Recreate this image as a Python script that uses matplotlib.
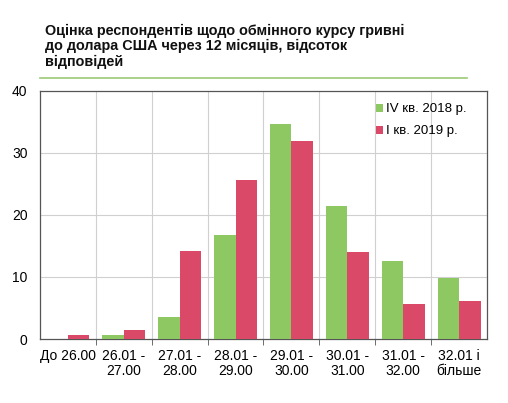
import matplotlib
matplotlib.use('Agg')
import matplotlib.pyplot as plt
import numpy as np

plt.rcParams['font.family'] = ['Liberation Sans', 'DejaVu Sans']

categories = ['До 26.00', '26.01 -\n27.00', '27.01 -\n28.00', '28.01 -\n29.00',
              '29.01 -\n30.00', '30.01 -\n31.00', '31.01 -\n32.00', '32.01 і\nбільше']
q4_2018 = [0.0, 0.6, 3.6, 16.7, 34.6, 21.4, 12.5, 9.8]
q1_2019 = [0.6, 1.5, 14.2, 25.6, 31.9, 14.0, 5.6, 6.1]
series_names = ['IV кв. 2018 р.', 'I кв. 2019 р.']
title = 'Оцінка респондентів щодо обмінного курсу гривні\nдо долара США через 12 місяців, відсоток\nвідповідей'

green = '#8DC863'
red = '#DA4A68'

fig = plt.figure(figsize=(5.08, 4.03), dpi=100)
ax = fig.add_axes([0.0787, 0.1588, 0.8800, 0.6166])

x = np.arange(len(categories))
w = 0.385
ax.bar(x - w / 2, q4_2018, w, color=green, label=series_names[0], zorder=3)
ax.bar(x + w / 2, q1_2019, w, color=red, label=series_names[1], zorder=3)

ax.set_xlim(-0.5, len(categories) - 0.5)
ax.set_ylim(0, 40)
ax.set_yticks([0, 10, 20, 30, 40])
ax.tick_params(axis='y', length=0, pad=9, labelsize=10)
ax.set_xticks(x)
ax.set_xticklabels(categories, fontsize=10, linespacing=1.15)
ax.tick_params(axis='x', length=0, pad=7)
bounds = np.arange(0.5, len(categories) - 0.5)
ax.set_xticks(bounds, minor=True)
ax.tick_params(axis='x', which='minor', length=4, color='#555555', direction='out')
for b in bounds:
    ax.axvline(b, color='#d0d0d0', lw=0.8, zorder=1)
for yv in [10, 20, 30]:
    ax.axhline(yv, color='#d0d0d0', lw=0.8, zorder=1)
for s in ax.spines.values():
    s.set_color('#555555')
    s.set_linewidth(0.9)

ax.legend(loc='upper right', bbox_to_anchor=(0.975, 0.985), frameon=False,
          fontsize=9.5, handlelength=0.55, handleheight=0.55, handletextpad=0.2,
          labelspacing=0.75, borderaxespad=0.3)

fig.text(0.089, 0.94, title, fontsize=10.4, fontweight='bold', va='top',
         ha='left', linespacing=1.1, color='#111111')
fig.add_artist(plt.Line2D([0.079, 0.919], [0.807, 0.807], color='#9BCB75', lw=1.2))

fig.savefig('out.png', dpi=100, facecolor='white')
